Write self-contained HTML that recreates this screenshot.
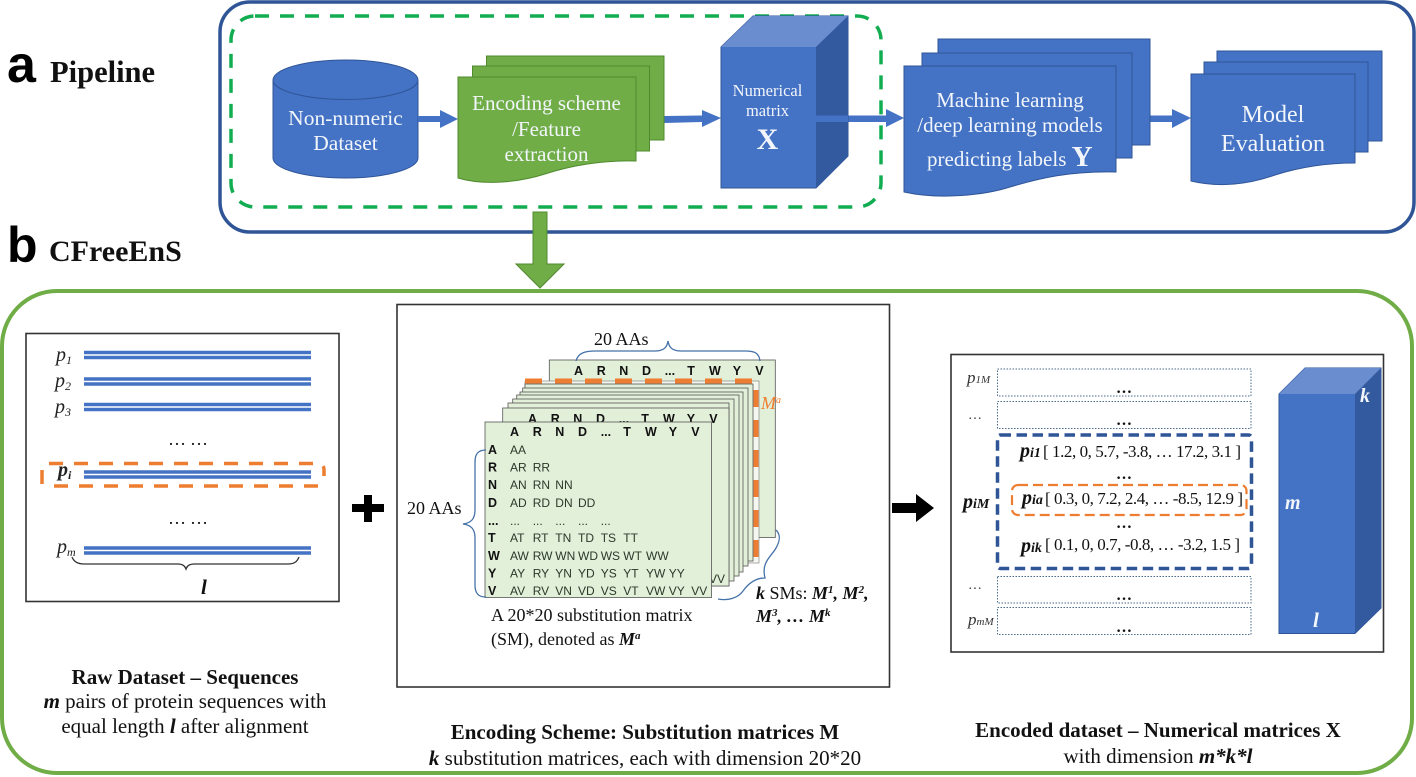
<!DOCTYPE html>
<html><head><meta charset="utf-8">
<style>
html,body{margin:0;padding:0;background:#fff;width:1416px;height:777px;overflow:hidden}
svg{display:block}
text{font-family:"Liberation Serif",serif;fill:#111}
.w{fill:#f2f6fb}
.sn{font-family:"Liberation Sans",sans-serif;fill:#000;font-weight:bold}
.m text{font-family:"Liberation Sans",sans-serif;font-size:12px;fill:#2a3a2a}
.m .b{font-weight:bold;fill:#111;font-size:12.5px}
</style></head><body>
<svg width="1416" height="777" viewBox="0 0 1416 777" xmlns="http://www.w3.org/2000/svg">
<rect width="1416" height="777" fill="#fff"/>

<!-- panel a -->
<text x="7" y="82" class="sn" font-size="52">a</text>
<text x="50" y="82" font-weight="bold" font-size="30.500">Pipeline</text>
<text x="7" y="262" class="sn" font-size="50">b</text>
<text x="49" y="261" font-weight="bold" font-size="30">CFreeEnS</text>

<rect x="220" y="2" width="1194" height="230" rx="30" fill="#fff" stroke="#2f5597" stroke-width="3.500"/>
<rect x="231" y="16" width="650" height="191" rx="24" fill="none" stroke="#12ad50" stroke-width="3.500" stroke-dasharray="14 11"/>

<!-- cylinder -->
<path d="M273 80 A72.500 20 0 0 1 418 80 V158 A72.500 20 0 0 1 273 158Z" fill="#4472c4" stroke="#2f5597"/>
<path d="M273 80 A72.500 19.500 0 0 0 418 80" fill="none" stroke="#2f5597"/>
<text class="w" x="345.500" y="125" text-anchor="middle" font-size="21.500">Non-numeric</text>
<text class="w" x="345.500" y="150" text-anchor="middle" font-size="21.500">Dataset</text>

<!-- arrows -->
<g fill="#4472c4">
<path d="M418 116H440V110L458 119L440 128V122H418Z"/>
<path d="M664 116L702 115.500V110L721 118L702 127V122L664 123Z"/>
<path d="M816 115.500H886V109L904 118L886 127V122H816Z"/>
<path d="M1150 115.500H1172V109L1191 118L1172 128V122H1150Z"/>
</g>

<!-- green docs -->
<g fill="#70ad47" stroke="#4f8a2e" stroke-width="1">
<rect x="486.500" y="56" width="177.500" height="84"/>
<rect x="472.500" y="66" width="177" height="85"/>
<path d="M458 77H636V161C600 160 570 166 545 174C520 182 485 186 458 178Z"/>
</g>
<text class="w" x="546.500" y="110" text-anchor="middle" font-size="21">Encoding scheme</text>
<text class="w" x="546.500" y="136" text-anchor="middle" font-size="21">/Feature</text>
<text class="w" x="546.500" y="161" text-anchor="middle" font-size="21">extraction</text>

<!-- cube -->
<path d="M721 47L753 16H848V156L816 188H721Z" fill="#4472c4" stroke="#2f5597"/>
<path d="M721 47L753 16H848L816 47Z" fill="#6a8dd0"/>
<path d="M816 47L848 16V156L816 188Z" fill="#335a9f"/>
<path d="M816 115.500H848V122H816Z" fill="#4472c4"/>
<text class="w" x="767.500" y="96" text-anchor="middle" font-size="16.500">Numerical</text>
<text class="w" x="767.500" y="116" text-anchor="middle" font-size="16.500">matrix</text>
<text class="w" x="767.500" y="149" text-anchor="middle" font-size="30" font-weight="bold">X</text>

<!-- ML docs -->
<g fill="#4472c4" stroke="#2f5597" stroke-width="1">
<rect x="938" y="39" width="212" height="106"/>
<rect x="922" y="53" width="210" height="105"/>
<path d="M904 66H1116V172C1070 171 1040 178 1010 187C985 195 940 200 904 192Z"/>
</g>
<text class="w" x="1010" y="107" text-anchor="middle" font-size="21">Machine learning</text>
<text class="w" x="1010" y="132" text-anchor="middle" font-size="21">/deep learning models</text>
<text class="w" x="927" y="166" font-size="21">predicting labels <tspan font-weight="bold" font-size="29">Y</tspan></text>

<!-- evaluation docs -->
<g fill="#4472c4" stroke="#2f5597" stroke-width="1">
<rect x="1217" y="51" width="165" height="90"/>
<rect x="1204" y="62" width="164" height="90"/>
<path d="M1191 74H1355V163C1325 163 1300 167 1275 175C1250 184 1220 188 1191 181Z"/>
</g>
<text class="w" x="1273" y="122" text-anchor="middle" font-size="24">Model</text>
<text class="w" x="1273" y="151" text-anchor="middle" font-size="24">Evaluation</text>

<!-- panel b container -->
<rect x="2" y="291" width="1410" height="482" rx="55" fill="#fff" stroke="#70ad47" stroke-width="4"/>
<path d="M533 212H547V264H564L540 288L516 264H533Z" fill="#70ad47" stroke="#4f8a2e" stroke-width="1"/>

<!-- left box -->
<rect x="26" y="333.500" width="313" height="268" fill="#fff" stroke="#333" stroke-width="1.600"/>
<g stroke="#4472c4" stroke-width="3.500" fill="none">
<path d="M84 352.500H311M84 357.500H311"/>
<path d="M84 379H311M84 384H311"/>
<path d="M84 404.500H311M84 409.500H311"/>
<path d="M84 472H311M84 477H311"/>
<path d="M84 548H311M84 553H311"/>
</g>
<g fill="none" stroke="#ed7d31" stroke-width="3.500" stroke-dasharray="14 11">
<path d="M42 484V470C42 466 44 463.500 48 463.500H318C322 463.500 324 466 324 470V476"/>
<path d="M54 486H321"/>
</g>
<g font-style="italic" font-size="20">
<text x="56" y="361" style="fill:#222">p<tspan font-size="12" dy="3">1</tspan></text>
<text x="55" y="387" style="fill:#222">p<tspan font-size="12" dy="3">2</tspan></text>
<text x="55" y="413" style="fill:#222">p<tspan font-size="12" dy="3">3</tspan></text>
<text x="58" y="476" font-weight="bold" style="fill:#222">p<tspan font-size="12" dy="3">i</tspan></text>
<text x="57" y="553" style="fill:#222">p<tspan font-size="12" dy="3">m</tspan></text>
</g>
<text x="168" y="445" font-size="18" textLength="40">… …</text>
<text x="168" y="524" font-size="18" textLength="40">… …</text>
<path d="M72 557C74 562 78 564 84 564H178C183 564 185 566 186 569C187 566 189 564 194 564H288C294 564 297 562 299 557" fill="none" stroke="#333" stroke-width="1.300"/>
<text x="201" y="594" font-size="21" font-style="italic" font-weight="bold">l</text>

<!-- middle box -->
<rect x="397" y="304.500" width="492.500" height="382.500" fill="#fff" stroke="#333" stroke-width="1.600"/>
<rect x="549.300" y="360" width="226" height="177.500" fill="#e2efd9" stroke="#555" stroke-width="0.800"/>
<g class="m" transform="translate(64,-61)">
<text class="b" x="510" y="436">A</text><text class="b" x="532.700" y="436">R</text><text class="b" x="555.300" y="436">N</text><text class="b" x="578" y="436">D</text><text class="b" x="600.700" y="436">...</text><text class="b" x="623.300" y="436">T</text><text class="b" x="645" y="436">W</text><text class="b" x="668.700" y="436">Y</text><text class="b" x="691.300" y="436">V</text>
</g>
<rect x="525" y="381" width="234" height="182" fill="#f3f7ef" stroke="#777" stroke-width="0.600"/>
<path d="M525 381H756V563" fill="none" stroke="#ed7d31" stroke-width="5" stroke-dasharray="17 13"/>
<g fill="#e2efd9" stroke="#555" stroke-width="0.800">
<rect x="525" y="384" width="228" height="177"/>
<rect x="522.700" y="388" width="225.300" height="178"/>
<rect x="520" y="392" width="223" height="180"/>
<rect x="516.700" y="395" width="222.300" height="181"/>
<rect x="512.700" y="399" width="221.300" height="182"/>
<rect x="508" y="403" width="221" height="183"/>
<rect x="502.700" y="408" width="226.300" height="178"/>
</g>
<g class="m" transform="translate(18,-13)">
<text class="b" x="510" y="436">A</text><text class="b" x="532.700" y="436">R</text><text class="b" x="555.300" y="436">N</text><text class="b" x="578" y="436">D</text><text class="b" x="600.700" y="436">...</text><text class="b" x="623.300" y="436">T</text><text class="b" x="645" y="436">W</text><text class="b" x="668.700" y="436">Y</text><text class="b" x="691.300" y="436">V</text>
</g>
<text x="709" y="583" style="font-family:'Liberation Sans',sans-serif;font-size:12px;fill:#2a3a2a">VV</text>
<rect x="485" y="422" width="226.500" height="175.500" fill="#e2efd9" stroke="#555" stroke-width="0.800"/>
<g class="m">
<text class="b" x="510" y="436">A</text><text class="b" x="532.700" y="436">R</text><text class="b" x="555.300" y="436">N</text><text class="b" x="578" y="436">D</text><text class="b" x="600.700" y="436">...</text><text class="b" x="623.300" y="436">T</text><text class="b" x="645" y="436">W</text><text class="b" x="668.700" y="436">Y</text><text class="b" x="691.300" y="436">V</text>
<text class="b" x="488" y="454">A</text><text x="510" y="454">AA</text>
<text class="b" x="488" y="471.500">R</text><text x="510" y="471.500">AR</text><text x="532.700" y="471.500">RR</text>
<text class="b" x="488" y="489">N</text><text x="510" y="489">AN</text><text x="532.700" y="489">RN</text><text x="555.300" y="489">NN</text>
<text class="b" x="488" y="507">D</text><text x="510" y="507">AD</text><text x="532.700" y="507">RD</text><text x="555.300" y="507">DN</text><text x="578" y="507">DD</text>
<text class="b" x="488" y="525">...</text><text x="510" y="525">...</text><text x="532.700" y="525">...</text><text x="555.300" y="525">...</text><text x="578" y="525">...</text><text x="600.700" y="525">...</text>
<text class="b" x="488" y="542">T</text><text x="510" y="542">AT</text><text x="532.700" y="542">RT</text><text x="555.300" y="542">TN</text><text x="578" y="542">TD</text><text x="600.700" y="542">TS</text><text x="623.300" y="542">TT</text>
<text class="b" x="488" y="560">W</text><text x="510" y="560">AW</text><text x="532.700" y="560">RW</text><text x="555.300" y="560">WN</text><text x="578" y="560">WD</text><text x="600.700" y="560">WS</text><text x="623.300" y="560">WT</text><text x="646" y="560">WW</text>
<text class="b" x="488" y="577.500">Y</text><text x="510" y="577.500">AY</text><text x="532.700" y="577.500">RY</text><text x="555.300" y="577.500">YN</text><text x="578" y="577.500">YD</text><text x="600.700" y="577.500">YS</text><text x="623.300" y="577.500">YT</text><text x="646" y="577.500">YW</text><text x="668.700" y="577.500">YY</text>
<text class="b" x="488" y="595">V</text><text x="510" y="595">AV</text><text x="532.700" y="595">RV</text><text x="555.300" y="595">VN</text><text x="578" y="595">VD</text><text x="600.700" y="595">VS</text><text x="623.300" y="595">VT</text><text x="646" y="595">VW</text><text x="668.700" y="595">VY</text><text x="691.300" y="595">VV</text>
</g>
<text x="761" y="409" font-size="18" font-style="italic" style="fill:#ed7d31">M<tspan font-size="10" dy="-6">a</tspan></text>
<g fill="none" stroke="#4472a8" stroke-width="1.300">
<path d="M576 361C578 353 585 351 595 351H655C663 351 667 348 668 341C669 348 673 351 681 351H745C755 351 759 353 760 361"/>
<path d="M486 450C478 450 475 454 475 462V510C475 519 471 523 463 524C471 525 475 529 475 538V585C475 593 478 597 486 597"/>
<path d="M776 530C781 535 780 541 776 548C771 557 761 562 765 578C755 578 748 584 743 591C738 598 728 601 718 599"/>
</g>
<text x="594" y="345" font-size="18">20 AAs</text>
<text x="407" y="514" font-size="18">20 AAs</text>
<text x="491" y="621" font-size="18">A 20*20 substitution matrix</text>
<text x="491" y="645" font-size="18">(SM), denoted as <tspan font-style="italic" font-weight="bold">M<tspan font-size="11" dy="-6">a</tspan></tspan></text>
<text x="756" y="599" font-size="18"><tspan font-weight="bold" font-style="italic">k</tspan> SMs: <tspan font-weight="bold" font-style="italic">M<tspan font-size="11" dy="-6">1</tspan><tspan dy="6">, M</tspan><tspan font-size="11" dy="-6">2</tspan><tspan dy="6">,</tspan></tspan></text>
<text x="756" y="622" font-size="18" font-weight="bold" font-style="italic">M<tspan font-size="11" dy="-6">3</tspan><tspan dy="6">, … M</tspan><tspan font-size="11" dy="-6">k</tspan></text>

<!-- plus and arrow -->
<path d="M364 495H372V504H384V512H372V522H364V512H352V504H364Z" fill="#000"/>
<path d="M892 503H916V494L934 508L916 522V513H892Z" fill="#000"/>

<!-- right box -->
<rect x="951" y="354.500" width="432.500" height="297.500" fill="#fff" stroke="#333" stroke-width="1.600"/>
<g fill="#fff" stroke="#4a6a8a" stroke-width="1" stroke-dasharray="1.500 1.500">
<rect x="997.500" y="369" width="253.500" height="27"/>
<rect x="997.500" y="401.500" width="253.500" height="27"/>
<rect x="997.500" y="576.500" width="253.500" height="26.500"/>
<rect x="997.500" y="607.500" width="253.500" height="27"/>
</g>
<rect x="997.500" y="435" width="254" height="133.500" rx="3" fill="none" stroke="#2f5597" stroke-width="3.500" stroke-dasharray="10.500 5.500"/>
<rect x="1012" y="485" width="234.500" height="30" rx="6" fill="none" stroke="#ed7d31" stroke-width="2.200" stroke-dasharray="10 5"/>
<g font-weight="bold" font-size="16" text-anchor="middle">
<text x="1124" y="393">…</text>
<text x="1124" y="425">…</text>
<text x="1124" y="479">…</text>
<text x="1124" y="528">…</text>
<text x="1124" y="600">…</text>
<text x="1124" y="632">…</text>
</g>
<text x="967" y="383" font-size="17" font-style="italic" style="fill:#333">p<tspan font-size="11">1M</tspan></text>
<text x="969" y="419" font-size="14" font-style="italic" style="fill:#333">…</text>
<text x="969" y="589" font-size="14" font-style="italic" style="fill:#333">…</text>
<text x="968" y="625" font-size="17" font-style="italic" style="fill:#333">p<tspan font-size="11">mM</tspan></text>
<text x="963" y="508" font-size="20" font-weight="bold" font-style="italic">p<tspan font-size="14">iM</tspan></text>
<text x="1020" y="457" font-size="20" font-weight="bold" font-style="italic">p<tspan font-size="14">i1</tspan></text>
<text x="1043" y="457" font-size="17" textLength="198">[ 1.2, 0, 5.7, -3.8, … 17.2, 3.1 ]</text>
<text x="1022" y="504" font-size="20" font-weight="bold" font-style="italic">p<tspan font-size="14">ia</tspan></text>
<text x="1045" y="504" font-size="17" textLength="198">[ 0.3, 0, 7.2, 2.4, … -8.5, 12.9 ]</text>
<text x="1021" y="552" font-size="20" font-weight="bold" font-style="italic">p<tspan font-size="14">ik</tspan></text>
<text x="1045" y="550" font-size="17" textLength="195">[ 0.1, 0, 0.7, -0.8, … -3.2, 1.5 ]</text>

<!-- cuboid -->
<path d="M1279 394L1305 368H1381V608L1355 633.500H1279Z" fill="#4472c4" stroke="#2f5597"/>
<path d="M1279 394L1305 368H1381L1355 394Z" fill="#6a8dd0"/>
<path d="M1355 394L1381 368V608L1355 633.500Z" fill="#335a9f"/>
<text class="w" x="1360" y="402" font-size="20" font-weight="bold" font-style="italic">k</text>
<text class="w" x="1285" y="509" font-size="20" font-weight="bold" font-style="italic">m</text>
<text class="w" x="1313" y="627" font-size="21" font-weight="bold" font-style="italic">l</text>

<!-- captions -->
<g font-size="21" text-anchor="middle">
<text x="185" y="684" font-weight="bold">Raw Dataset – Sequences</text>
<text x="185" y="708"><tspan font-weight="bold" font-style="italic">m</tspan> pairs of protein sequences with</text>
<text x="185" y="733">equal length <tspan font-weight="bold" font-style="italic">l</tspan> after alignment</text>
<text x="645" y="739" font-weight="bold">Encoding Scheme: Substitution matrices M</text>
<text x="645" y="765"><tspan font-weight="bold" font-style="italic">k</tspan> substitution matrices, each with dimension 20*20</text>
<text x="1158" y="737" font-weight="bold">Encoded dataset – Numerical matrices X</text>
<text x="1158" y="763">with dimension <tspan font-weight="bold" font-style="italic">m*k*l</tspan></text>
</g>
</svg>
</body></html>
